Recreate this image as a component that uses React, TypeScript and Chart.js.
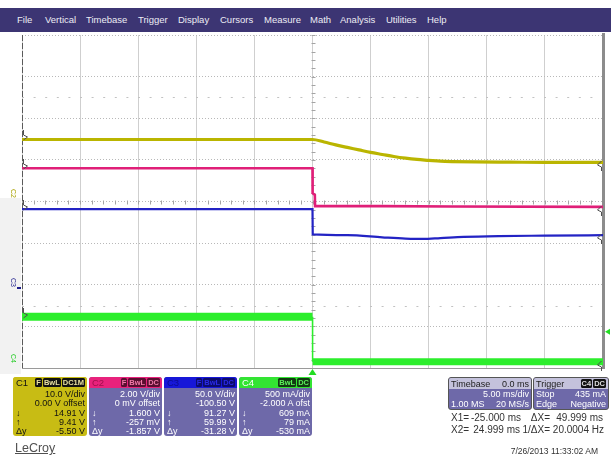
import React, { useEffect, useRef } from "react";
import { Chart, registerables } from "chart.js";

Chart.register(...registerables);

// ---- time axis (ms) and vertical axis (divisions) ----
const timeMin = -25;
const timeMax = 25;
const timeStep = 5;
const divMin = -4;
const divMax = 4;
const sparseRows = [2.5, -2.5];

// ---- traces (x: ms, y: divisions from centre) ----
const c1Time = [-25, 0, 1, 2, 3, 4, 5, 6, 7, 8, 9, 10, 11, 12, 14, 17, 20, 25];
const c1Div = [1.49, 1.49, 1.43, 1.36, 1.3, 1.24, 1.18, 1.13, 1.08, 1.04, 1.01, 0.99, 0.97, 0.96, 0.95, 0.945, 0.94, 0.94];

const c2Time = [-25, 0, 0.01, 0.2, 0.22, 6, 12, 25];
const c2Div = [0.8, 0.8, 0.2, 0.16, -0.11, -0.11, -0.12, -0.13];

const c3Time = [-25, 0, 0.02, 3, 6, 8, 9.5, 11, 13, 16, 20, 25];
const c3Div = [-0.185, -0.185, -0.79, -0.81, -0.86, -0.89, -0.9, -0.88, -0.85, -0.83, -0.82, -0.81];

const c4Time = [-25, 0, 0.01, 25];
const c4Div = [-2.77, -2.77, -3.85, -3.85];

const triggerLevelDiv = -3.13;

// ---- texts ----
const menuItems = ["File", "Vertical", "Timebase", "Trigger", "Display", "Cursors", "Measure", "Math", "Analysis", "Utilities", "Help"];
const channelNames = ["C1", "C2", "C3", "C4"];
const channelBadges = [["F", "BwL", "DC1M"], ["F", "BwL", "DC"], ["F", "BwL", "DC"], ["BwL", "DC"]];
const channelScale = ["10.0 V/div", "2.00 V/div", "50.0 V/div", "500 mA/div"];
const channelOffset = ["0.00 V offset", "0 mV offset", "-100.50 V", "-2.000 A ofst"];
const cursor1Values = ["14.91 V", "1.600 V", "91.27 V", "609 mA"];
const cursor2Values = ["9.41 V", "-257 mV", "59.99 V", "79 mA"];
const deltaValues = ["-5.50 V", "-1.857 V", "-31.28 V", "-530 mA"];

const FONT = '"Liberation Sans", Arial, sans-serif';
const PANEL_BODY = "#6e69a9";

const toPoints = (t: number[], v: number[]) => t.map((x, i) => ({ x, y: v[i] }));

const scopePlugin = {
  id: "scopeDecor",
  beforeDatasetsDraw(chart: any) {
    const { ctx, chartArea: a, scales } = chart;
    const xs = scales.x;
    const ys = scales.y;
    ctx.save();
    ctx.lineWidth = 1;
    // sparse dashed rows
    ctx.strokeStyle = "#c2c2c2";
    ctx.setLineDash([2, 9.6]);
    for (const v of sparseRows) {
      const py = Math.round(ys.getPixelForValue(v)) + 0.5;
      ctx.beginPath();
      ctx.moveTo(a.left, py);
      ctx.lineTo(a.right, py);
      ctx.stroke();
    }
    ctx.setLineDash([]);
    // centre-line ticks
    ctx.strokeStyle = "#a4a4a4";
    const cy = Math.round(ys.getPixelForValue(0)) + 0.5;
    const cx = Math.round(xs.getPixelForValue(0)) + 0.5;
    ctx.beginPath();
    for (let t = timeMin; t <= timeMax; t += 1) {
      const px = Math.round(xs.getPixelForValue(t)) + 0.5;
      ctx.moveTo(px, cy - 2);
      ctx.lineTo(px, cy + 2);
    }
    for (let i = 0; i <= (divMax - divMin) * 5; i++) {
      const py = Math.round(ys.getPixelForValue(divMin + i * 0.2)) + 0.5;
      ctx.moveTo(cx - 2, py);
      ctx.lineTo(cx + 2, py);
    }
    ctx.stroke();
    // left border (dashed dark)
    ctx.strokeStyle = "#5a5a5a";
    ctx.setLineDash([6, 2]);
    ctx.beginPath();
    ctx.moveTo(a.left + 0.5, a.top);
    ctx.lineTo(a.left + 0.5, a.bottom);
    ctx.stroke();
    ctx.setLineDash([]);
    // bottom border
    ctx.strokeStyle = "#9a9a9a";
    ctx.beginPath();
    ctx.moveTo(a.left, a.bottom + 0.5);
    ctx.lineTo(a.right, a.bottom + 0.5);
    ctx.stroke();
    // right border
    ctx.strokeStyle = "#8c8c8c";
    ctx.lineWidth = 3;
    ctx.beginPath();
    ctx.moveTo(a.right + 0.5, a.top - 2);
    ctx.lineTo(a.right + 0.5, a.bottom + 1);
    ctx.stroke();
    ctx.restore();
  },
  afterDatasetsDraw(chart: any) {
    const { ctx, chartArea: a, scales } = chart;
    const xs = scales.x;
    const ys = scales.y;
    ctx.save();
    ctx.strokeStyle = "#505050";
    ctx.lineWidth = 1;
    const starts = [c1Div[0], c2Div[0], c3Div[0], c4Div[0]];
    const ends = [c1Div[c1Div.length - 1], c2Div[c2Div.length - 1], c3Div[c3Div.length - 1], c4Div[c4Div.length - 1]];
    for (const v of starts) {
      const py = Math.round(ys.getPixelForValue(v));
      ctx.beginPath();
      ctx.moveTo(a.left + 1.5, py - 9);
      ctx.lineTo(a.left + 1.5, py - 4);
      ctx.lineTo(a.left + 5.5, py - 2);
      ctx.lineTo(a.left + 1.5, py + 1);
      ctx.stroke();
    }
    for (const v of ends) {
      const py = Math.round(ys.getPixelForValue(v));
      ctx.beginPath();
      ctx.moveTo(a.right - 1.5, py - 1);
      ctx.lineTo(a.right - 5.5, py + 3);
      ctx.lineTo(a.right - 1.5, py + 5);
      ctx.lineTo(a.right - 1.5, py + 9);
      ctx.stroke();
    }
    // trigger time marker
    ctx.fillStyle = "#22dd22";
    const tx = xs.getPixelForValue(0);
    ctx.beginPath();
    ctx.moveTo(tx, a.bottom + 1);
    ctx.lineTo(tx - 4, a.bottom + 7);
    ctx.lineTo(tx + 4, a.bottom + 7);
    ctx.closePath();
    ctx.fill();
    // trigger level marker
    const ty = ys.getPixelForValue(triggerLevelDiv);
    ctx.beginPath();
    ctx.moveTo(a.right + 2, ty);
    ctx.lineTo(a.right + 7, ty - 3);
    ctx.lineTo(a.right + 7, ty + 3);
    ctx.closePath();
    ctx.fill();
    ctx.restore();
  },
};

function ScopeChart() {
  const ref = useRef<HTMLCanvasElement | null>(null);
  useEffect(() => {
    if (!ref.current) return;
    const c4Pts = toPoints(c4Time, c4Div);
    const chart = new Chart(ref.current, {
      type: "line",
      data: {
        datasets: [
          { data: toPoints(c1Time, c1Div), borderColor: "#bab500", borderWidth: 3.2, cubicInterpolationMode: "monotone" } as any,
          { data: toPoints(c2Time, c2Div), borderColor: "#e01f78", borderWidth: 2.6 },
          { data: toPoints(c3Time, c3Div), borderColor: "#2323c4", borderWidth: 2.2, cubicInterpolationMode: "monotone" } as any,
          { data: c4Pts.slice(0, 2), borderColor: "#2cee2c", borderWidth: 8, borderCapStyle: "butt" },
          { data: c4Pts.slice(1, 3), borderColor: "#2cee2c", borderWidth: 1.5 },
          { data: c4Pts.slice(2, 4), borderColor: "#2cee2c", borderWidth: 7, borderCapStyle: "butt" },
        ],
      },
      options: {
        animation: false,
        responsive: false,
        devicePixelRatio: 1,
        layout: { padding: { left: 22, right: 8, top: 35, bottom: 88 } },
        elements: { point: { radius: 0 }, line: { tension: 0 } },
        plugins: { legend: { display: false }, tooltip: { enabled: false } },
        scales: {
          x: {
            type: "linear",
            min: timeMin,
            max: timeMax,
            ticks: { display: false, stepSize: timeStep },
            grid: { color: "#cfcfcf", drawTicks: false, lineWidth: 1 },
            border: { display: false },
            afterFit: (s: any) => {
              s.height = 0;
            },
          },
          y: {
            type: "linear",
            min: divMin,
            max: divMax,
            ticks: { display: false, stepSize: 1 },
            grid: { color: "#b8b8b8", drawTicks: false, lineWidth: 1 },
            border: { display: false, dash: [1, 2] },
            afterFit: (s: any) => {
              s.width = 0;
            },
          },
        },
      },
      plugins: [scopePlugin],
    } as any);
    return () => chart.destroy();
  }, []);
  return <canvas ref={ref} width={611} height={456} style={{ position: "absolute", left: 0, top: 0, width: 611, height: 456 }} />;
}

type PanelProps = {
  idx: number;
  left: number;
  width: number;
  headBg: string;
  headFg: string;
  bodyBg: string;
  bodyFg: string;
  badgeBg: string;
  badgeFg: string;
};

function ChannelPanel(p: PanelProps) {
  const row = (sym: string, val: string) => (
    <div style={{ display: "flex", justifyContent: "space-between", height: 9.3, lineHeight: "9.3px" }}>
      <span>{sym}</span>
      <span>{val}</span>
    </div>
  );
  return (
    <div
      style={{
        position: "absolute",
        left: p.left,
        top: 377,
        width: p.width,
        height: 59,
        background: p.bodyBg,
        color: p.bodyFg,
        borderRadius: 3,
        overflow: "hidden",
        fontFamily: FONT,
        fontSize: 9,
        whiteSpace: "nowrap",
      }}
    >
      <div style={{ height: 11, background: p.headBg, display: "flex", alignItems: "center", justifyContent: "space-between", padding: "0 2px 0 3px" }}>
        <span style={{ color: p.headFg, fontSize: 9.5 }}>{channelNames[p.idx]}</span>
        <span style={{ display: "flex", gap: 1 }}>
          {channelBadges[p.idx].map((b) => (
            <span key={b} style={{ background: p.badgeBg, color: p.badgeFg, fontSize: 7.5, lineHeight: "9px", padding: "0 1px", borderRadius: 1.5, fontWeight: "bold" }}>
              {b}
            </span>
          ))}
        </span>
      </div>
      <div style={{ padding: "2px 2px 0 3px" }}>
        {row("", channelScale[p.idx])}
        {row("", channelOffset[p.idx])}
        {row("↓", cursor1Values[p.idx])}
        {row("↑", cursor2Values[p.idx])}
        {row("Δy", deltaValues[p.idx])}
      </div>
    </div>
  );
}

function SmallPanel(props: { left: number; width: number; head: React.ReactNode; rows: [string, string][] }) {
  return (
    <div
      style={{
        position: "absolute",
        left: props.left,
        top: 377,
        width: props.width,
        height: 33,
        background: PANEL_BODY,
        color: "#ffffff",
        borderRadius: 3,
        overflow: "hidden",
        fontFamily: FONT,
        fontSize: 9,
        whiteSpace: "nowrap",
        border: "1px solid #555",
        boxSizing: "border-box",
      }}
    >
      <div style={{ height: 11, background: "#c4c2dc", color: "#222", display: "flex", alignItems: "center", justifyContent: "space-between", padding: "0 2px" }}>
        {props.head}
      </div>
      {props.rows.map(([l, r], i) => (
        <div key={i} style={{ display: "flex", justifyContent: "space-between", height: 10, lineHeight: "10px", padding: "0 2px" }}>
          <span>{l}</span>
          <span>{r}</span>
        </div>
      ))}
    </div>
  );
}

const menuLeft = [17, 45, 86, 138, 178, 220, 264, 310, 340, 386, 427];

export default function App() {
  const txt = (content: string, style: React.CSSProperties) => (
    <div style={{ position: "absolute", fontFamily: FONT, color: "#333", whiteSpace: "nowrap", ...style }}>{content}</div>
  );
  return (
    <div style={{ position: "fixed", left: 0, top: 0, width: 611, height: 456, background: "#ffffff", overflow: "hidden" }}>
      <div style={{ position: "absolute", left: 0, top: 198, width: 21, height: 176, background: "#f2f2f2" }} />
      <ScopeChart />
      {/* menu bar */}
      <div style={{ position: "absolute", left: 0, top: 8, width: 611, height: 24, background: "#3c3573" }}>
        {menuItems.map((m, i) => (
          <span
            key={m}
            style={{ position: "absolute", left: menuLeft[i], top: 6, fontFamily: FONT, fontSize: 9.5, color: "#ececf4", lineHeight: "12px" }}
          >
            {m}
          </span>
        ))}
      </div>
      {/* channel offset labels */}
      <div style={{ position: "absolute", left: 9, top: 190, fontFamily: FONT, fontSize: 7, color: "#a8a000", transform: "rotate(90deg)", transformOrigin: "center" }}>C2</div>
      <div style={{ position: "absolute", left: 9, top: 279, fontFamily: FONT, fontSize: 7, color: "#1d1d8c", transform: "rotate(90deg)" }}>C3</div>
      <div style={{ position: "absolute", left: 17, top: 287, width: 4, height: 2, background: "#1d1d8c" }} />
      <div style={{ position: "absolute", left: 9, top: 355, fontFamily: FONT, fontSize: 7, color: "#22cc22", transform: "rotate(90deg)" }}>C4</div>
      {/* channel panels */}
      <ChannelPanel idx={0} left={13} width={74} headBg="#c8bc14" headFg="#111" bodyBg="#c8bc14" bodyFg="#111" badgeBg="#111" badgeFg="#e8e0a0" />
      <ChannelPanel idx={1} left={89} width={73} headBg="#e8227c" headFg="#a0104c" bodyBg={PANEL_BODY} bodyFg="#fff" badgeBg="#5a0e30" badgeFg="#f07aa8" />
      <ChannelPanel idx={2} left={164} width={73} headBg="#1717d8" headFg="#0c0c90" bodyBg={PANEL_BODY} bodyFg="#fff" badgeBg="#0c0c6c" badgeFg="#2a2ae8" />
      <ChannelPanel idx={3} left={239} width={73} headBg="#33e433" headFg="#ffffff" bodyBg={PANEL_BODY} bodyFg="#fff" badgeBg="#123a12" badgeFg="#5cf05c" />
      {/* timebase & trigger */}
      <SmallPanel
        left={448}
        width={84}
        head={
          <>
            <span>Timebase</span>
            <span>0.0 ms</span>
          </>
        }
        rows={[["", "5.00 ms/div"], ["1.00 MS", "20 MS/s"]]}
      />
      <SmallPanel
        left={533}
        width={76}
        head={
          <>
            <span>Trigger</span>
            <span style={{ display: "flex", gap: 1 }}>
              <span style={{ background: "#111", color: "#ddd", fontSize: 7.5, fontWeight: "bold", padding: "0 1px", borderRadius: 1.5, lineHeight: "9px" }}>C4</span>
              <span style={{ background: "#111", color: "#ddd", fontSize: 7.5, fontWeight: "bold", padding: "0 1px", borderRadius: 1.5, lineHeight: "9px" }}>DC</span>
            </span>
          </>
        }
        rows={[["Stop", "435 mA"], ["Edge", "Negative"]]}
      />
      {/* cursor readouts */}
      {txt("X1=", { left: 451, top: 412, fontSize: 10 })}
      {txt("-25.000 ms", { right: 611 - 521, top: 412, fontSize: 10 })}
      {txt("ΔX=", { right: 611 - 550, top: 412, fontSize: 10 })}
      {txt("49.999 ms", { right: 611 - 603, top: 412, fontSize: 10 })}
      {txt("X2=", { left: 451, top: 424, fontSize: 10 })}
      {txt("24.999 ms", { right: 611 - 520, top: 424, fontSize: 10 })}
      {txt("1/ΔX=", { right: 611 - 550, top: 424, fontSize: 10 })}
      {txt("20.0004 Hz", { right: 611 - 604, top: 424, fontSize: 10 })}
      {txt("7/26/2013 11:33:02 AM", { right: 611 - 598, top: 446, fontSize: 8.5 })}
      {/* logo */}
      <div style={{ position: "absolute", left: 15, top: 441, fontFamily: FONT, fontSize: 12.5, color: "#505050", textDecoration: "underline" }}>LeCroy</div>
    </div>
  );
}
